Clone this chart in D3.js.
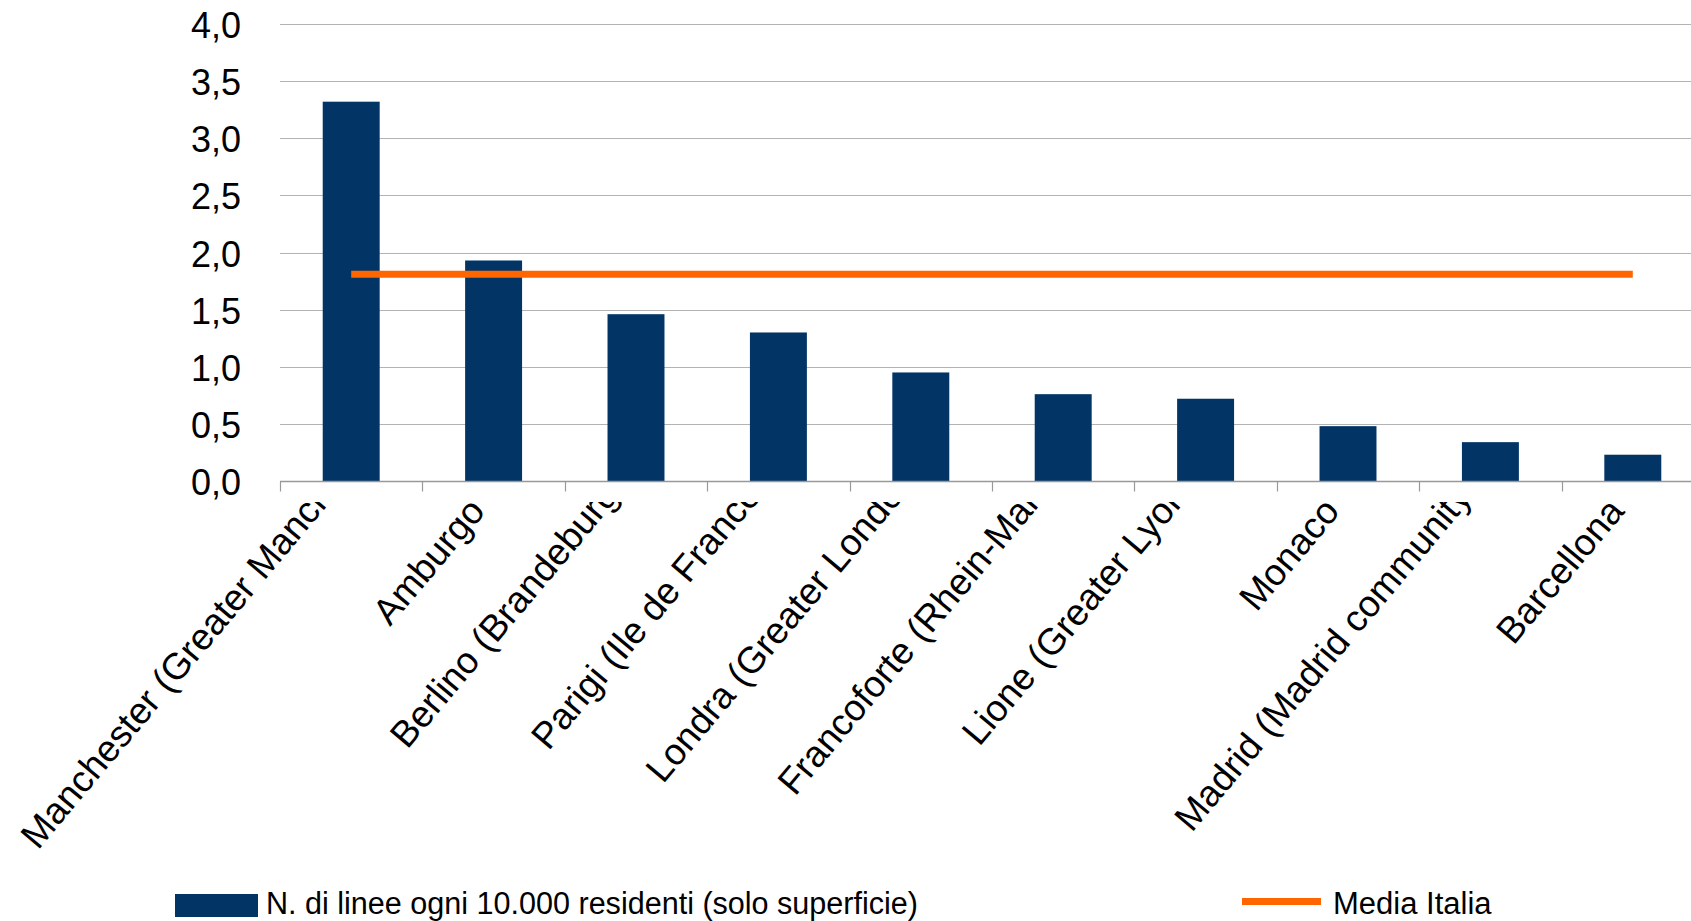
<!DOCTYPE html>
<html>
<head>
<meta charset="utf-8">
<script src="https://cdn.jsdelivr.net/npm/d3@7"></script>
<style>
  html, body { margin: 0; padding: 0; background: #ffffff; overflow: hidden; }
  svg { display: block; font-family: "Liberation Sans", Arial, Helvetica, sans-serif; }
</style>
</head>
<body>
<svg id="chart" width="1691" height="921"></svg>
<script>
// ---- data ----
const categories = [
  "Manchester (Greater Manchester)", "Amburgo", "Berlino (Brandeburgo)",
  "Parigi (Ile de France)", "Londra (Greater London)", "Francoforte (Rhein-Main)",
  "Lione (Greater Lyon)", "Monaco", "Madrid (Madrid community)", "Barcellona"
];
// category labels as they appear (cut off) in the chart
const tickLabels = [
  "Manchester (Greater Manch", "Amburgo", "Berlino (Brandeburg",
  "Parigi (Ile de France", "Londra (Greater Londo", "Francoforte (Rhein-Mai",
  "Lione (Greater Lyon", "Monaco", "Madrid (Madrid community", "Barcellona"
];
const lineePer10000 = [3.32, 1.93, 1.46, 1.30, 0.95, 0.76, 0.72, 0.48, 0.34, 0.23];
const mediaItalia = [1.81, 1.81, 1.81, 1.81, 1.81, 1.81, 1.81, 1.81, 1.81, 1.81];
const yTicks = [0, 0.5, 1, 1.5, 2, 2.5, 3, 3.5, 4];
const yTickLabels = ["0,0", "0,5", "1,0", "1,5", "2,0", "2,5", "3,0", "3,5", "4,0"];
const seriesNames = ["N. di linee ogni 10.000 residenti (solo superficie)", "Media Italia"];

// ---- layout ----
const W = 1691, H = 921;
const plot = { left: 280, right: 1704, top: 24, bottom: 481 };
const barColor = "#023466", lineColor = "#ff6600", gridColor = "#b3b3b3", axisColor = "#999999";

const svg = d3.select("#chart");

const x = d3.scaleBand().domain(categories).range([plot.left, plot.right])
  .paddingInner(0.6).paddingOuter(0.3);
const step = x.step();
const y = d3.scaleLinear().domain([0, 4]).range([plot.bottom, plot.top]);

// gridlines
svg.append("g").selectAll("line").data(yTicks.filter(d => d > 0)).join("line")
  .attr("x1", plot.left).attr("x2", W)
  .attr("y1", d => Math.round(y(d)) + 0.5).attr("y2", d => Math.round(y(d)) + 0.5)
  .attr("stroke", gridColor).attr("stroke-width", 1.2);

// y tick labels
svg.append("g").selectAll("text").data(yTicks).join("text")
  .attr("x", 241).attr("y", d => y(d) + 14)
  .attr("text-anchor", "end").attr("font-size", 36).attr("fill", "#000")
  .text((d, i) => yTickLabels[i]);

// bars
svg.append("g").selectAll("rect").data(lineePer10000).join("rect")
  .attr("x", (d, i) => x(categories[i]))
  .attr("width", x.bandwidth())
  .attr("y", d => y(d))
  .attr("height", d => y(0) - y(d))
  .attr("fill", barColor);

// baseline axis + ticks
const base = Math.round(y(0)) + 0.5;
svg.append("line").attr("x1", plot.left).attr("x2", W).attr("y1", base).attr("y2", base)
  .attr("stroke", axisColor).attr("stroke-width", 1.5);
const tickXs = d3.range(categories.length + 1).map(i => x(categories[0]) - step * x.paddingOuter() + i * step);
svg.append("g").selectAll("line").data(tickXs).join("line")
  .attr("x1", d => Math.round(d) + 0.5).attr("x2", d => Math.round(d) + 0.5)
  .attr("y1", base).attr("y2", base + 10)
  .attr("stroke", axisColor).attr("stroke-width", 1.2);

// Media Italia line
const line = d3.line().x((d, i) => x(categories[i]) + x.bandwidth() / 2).y(d => y(d));
svg.append("path").datum(mediaItalia).attr("d", line)
  .attr("fill", "none").attr("stroke", lineColor).attr("stroke-width", 7);

// category labels (rotated, clipped at the top)
svg.append("clipPath").attr("id", "labclip").append("rect")
  .attr("x", 0).attr("y", 502).attr("width", W).attr("height", H - 502);
const lab = svg.append("g").attr("clip-path", "url(#labclip)");
categories.forEach((c, i) => {
  const s = tickLabels[i];
  const cut = s !== c;
  const ax = x(c) + x.bandwidth() / 2 - 7 - (cut ? 22 : 0), ay = 512;
  const t = lab.append("text")
    .attr("transform", `translate(${ax},${ay}) rotate(-50)`)
    .attr("text-anchor", "start").attr("font-size", 37).attr("fill", "#000")
    .text(s);
  const node = t.node();
  const p = cut ? node.getSubStringLength(0, s.length - 1) : node.getComputedTextLength();
  t.attr("x", -p);
});

// legend
const lg = svg.append("g");
lg.append("rect").attr("x", 175).attr("y", 894).attr("width", 83).attr("height", 23).attr("fill", barColor);
lg.append("text").attr("x", 266).attr("y", 914).attr("font-size", 31).attr("fill", "#000")
  .attr("textLength", 652).attr("lengthAdjust", "spacingAndGlyphs").text(seriesNames[0]);
lg.append("line").attr("x1", 1242).attr("x2", 1321).attr("y1", 901.5).attr("y2", 901.5)
  .attr("stroke", lineColor).attr("stroke-width", 7);
lg.append("text").attr("x", 1333).attr("y", 914).attr("font-size", 31).attr("fill", "#000")
  .text(seriesNames[1]);
</script>
</body>
</html>
